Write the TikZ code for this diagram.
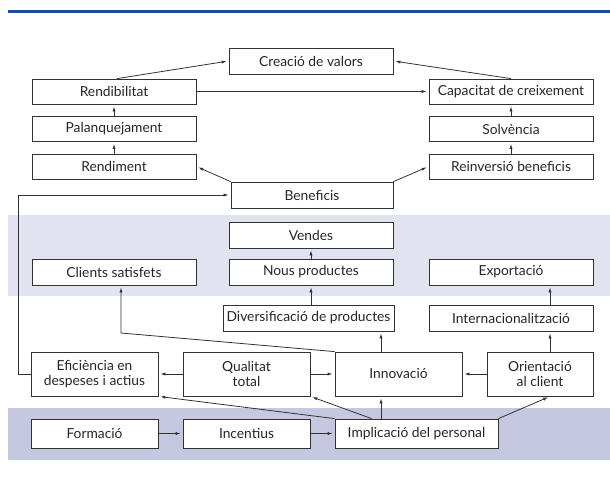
\documentclass[tikz,border=0pt]{standalone}
\usepackage{fontspec}
\setmainfont{Lato}
\usetikzlibrary{arrows.meta,calc}
\definecolor{topline}{RGB}{38,72,150}
\definecolor{bandA}{RGB}{225,227,240}
\definecolor{bandB}{RGB}{198,199,224}
\definecolor{ink}{RGB}{50,50,50}
\tikzset{
  box/.style={draw=ink, line width=0.8pt, fill=white, inner sep=0pt, align=center,
    font=\fontsize{13.8}{15.5}\selectfont, text=black!85},
  arr/.style={draw=ink, line width=0.8pt, -{Latex[length=5pt,width=3.2pt]}, shorten >=2pt}
}
\begin{document}
\begin{tikzpicture}[x=1pt,y=-1pt]
\useasboundingbox (0,0) rectangle (610,477);
% header line and bands
\draw[topline, line width=2.7pt] (8,11.5) -- (610,11.5);
\fill[bandA] (8,215) rectangle (610,296);
\fill[bandB] (8,408) rectangle (610,460);
% top part
\node[box, minimum width=164pt, minimum height=26pt] (cv) at (311,61) {Creació de valors};
\node[box, minimum width=164pt, minimum height=25pt] (rb) at (114,91.5) {Rendibilitat};
\node[box, minimum width=164pt, minimum height=25pt] (cc) at (511,91.5) {Capacitat de creixement};
\node[box, minimum width=164pt, minimum height=25pt] (pq) at (114,129) {Palanquejament};
\node[box, minimum width=164pt, minimum height=25pt] (sv) at (511,129) {Solvència};
\node[box, minimum width=164pt, minimum height=25pt] (rd) at (114,166.5) {Rendiment};
\node[box, minimum width=164pt, minimum height=25pt] (rv) at (511,166.5) {Reinversió beneficis};
\node[box, minimum width=162pt, minimum height=26pt] (bf) at (312,195) {Beneficis};
% band 1
\node[box, minimum width=164pt, minimum height=26pt] (vd) at (311,235) {Vendes};
\node[box, minimum width=164pt, minimum height=26pt] (cs) at (114,272) {Clients satisfets};
\node[box, minimum width=164pt, minimum height=26pt] (np) at (311,272) {Nous productes};
\node[box, minimum width=164pt, minimum height=26pt] (ex) at (511,272) {Exportació};
% middle
\node[box, minimum width=171pt, minimum height=26pt] (dv) at (308.5,318) {Diversificació de productes};
\node[box, minimum width=164pt, minimum height=26pt] (it) at (511,318) {Internacionalització};
\node[box, minimum width=127pt, minimum height=44pt] (ef) at (94.5,374) {Eficiència en\\despeses i actius};
\node[box, minimum width=127pt, minimum height=44pt] (qt) at (246.5,374) {Qualitat\\total};
\node[box, minimum width=127pt, minimum height=44pt] (in) at (398.5,374) {Innovació};
\node[box, minimum width=106pt, minimum height=44pt] (oc) at (540,374) {Orientació\\al client};
% band 2
\node[box, minimum width=127pt, minimum height=29pt] (fm) at (94.5,433.5) {Formació};
\node[box, minimum width=127pt, minimum height=29pt] (ic) at (246.5,433.5) {Incentius};
\node[box, minimum width=163pt, minimum height=29pt] (ip) at (416.5,433.5) {Implicació del personal};
% helper coordinates
\coordinate (ax) at (381,0);
\coordinate (ox) at (550,0);
\coordinate (cx) at (121,333);
% connectors top
\draw[arr] ([xshift=3pt]rb.north) -- (cv.west);
\draw[arr] (cc.north) -- (cv.east);
\draw[arr] (rb.east) -- (cc.west);
\draw[arr] (pq.north) -- (rb.south);
\draw[arr] (rd.north) -- (pq.south);
\draw[arr] (sv.north) -- (cc.south);
\draw[arr] (rv.north) -- (sv.south);
\draw[arr] (bf.north west) -- (rd.east);
\draw[arr] (bf.north east) -- (rv.west);
\draw[arr] (ef.west) -- ++(-12,0) |- (bf.west);
% middle
\draw[arr] (np.north) -- (vd.south);
\draw[arr] (dv.north -| np.south) -- (np.south);
\draw[arr] (in.north -| ax) -- (dv.south -| ax);
\draw[arr] (in.north west) -- (cx) -- (cx |- cs.south);
\draw[arr] (it.north -| ox) -- (ex.south -| ox);
\draw[arr] (oc.north -| ox) -- (it.south -| ox);
\draw[arr] (qt.west) -- (ef.east);
\draw[arr] (qt.east) -- (in.west);
\draw[arr] (oc.west) -- (in.east);
% bottom
\draw[arr] (fm.east) -- (ic.west);
\draw[arr] (ic.east) -- (ip.west);
\draw[arr] (ip.north -| ax) -- (in.south -| ax);
\draw[arr] ([xshift=37pt]ip.north west) -- (qt.south east);
\draw[arr] (ip.north west) -- (ef.south east);
\draw[arr] (ip.north east) -- (oc.south -| ox);
\end{tikzpicture}
\end{document}
